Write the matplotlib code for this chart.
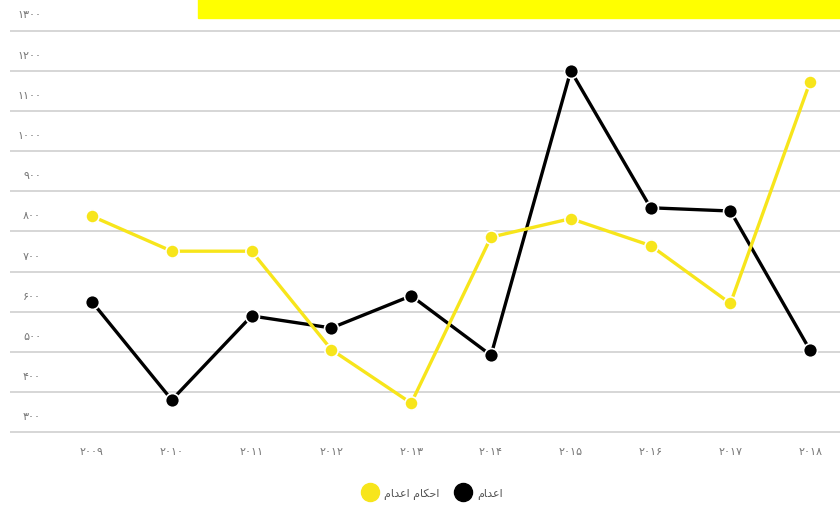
import numpy as np
import matplotlib.pyplot as plt
import matplotlib.patches as mpatches
from matplotlib.lines import Line2D

plt.rcParams['font.family'] = ['DejaVu Sans']

years = [2009, 2010, 2011, 2012, 2013, 2014, 2015, 2016, 2017, 2018]
year_labels = ['۲۰۰۹', '۲۰۱۰', '۲۰۱۱', '۲۰۱۲', '۲۰۱۳', '۲۰۱۴', '۲۰۱۵', '۲۰۱۶', '۲۰۱۷', '۲۰۱۸']
# احکام اعدام (sentences)
sentences = [838, 751, 751, 506, 373, 786, 832, 765, 621, 1173]
# اعدام (executions)
executions = [625, 381, 590, 560, 640, 492, 1200, 859, 851, 504]
y_ticks = [300, 400, 500, 600, 700, 800, 900, 1000, 1100, 1200, 1300]
y_labels = ['۳۰۰', '۴۰۰', '۵۰۰', '۶۰۰', '۷۰۰', '۸۰۰', '۹۰۰', '۱۰۰۰', '۱۱۰۰', '۱۲۰۰', '۱۳۰۰']

# persian labels written in presentation forms, visual order (matplotlib has no shaping)
lbl_sent = '\uFEE1\uFE8E\uFEAA\uFECB\uFE8D \uFEE1\uFE8E\uFB91\uFEA3\uFE8D'   # احکام اعدام
lbl_exec = '\uFEE1\uFE8E\uFEAA\uFECB\uFE8D'                                # اعدام

yellow = '#f7e51b'
W, H = 840, 506
fig = plt.figure(figsize=(W / 100, H / 100), dpi=100)
ax = fig.add_axes([10 / W, (H - 437.5) / H, 830 / W, (437.5 - 27.5) / H])
ax.set_xlim(2009 - 82 / 79.8, 2009 + 748 / 79.8)
ax.set_ylim(290, 1310)

for v in y_ticks:
    ax.axhline(v, color='#d6d6d6', lw=1.4, zorder=0)
for v, s in zip(y_ticks, y_labels):
    ax.text(31 / 830, v + 40, s, transform=ax.get_yaxis_transform(),
            ha='right', va='center', fontsize=8, color='#777777')

ax.plot(years, executions, color='black', lw=2.4, marker='o', ms=10,
        mfc='black', mec='white', mew=1.2, zorder=3)
ax.plot(years, sentences, color=yellow, lw=2.4, marker='o', ms=9.5,
        mfc=yellow, mec='white', mew=1.2, zorder=4)

ax.set_xticks(years)
ax.set_xticklabels(year_labels, fontsize=8, color='#777777')
ax.tick_params(axis='x', length=0, pad=7)
ax.set_yticks([])
for sp in ax.spines.values():
    sp.set_visible(False)

# yellow title banner (cut off at the top)
fig.patches.append(mpatches.Rectangle((198 / W, (H - 19) / H), 642 / W, 19 / H,
                                      transform=fig.transFigure, color='#ffff00', zorder=5))

handles = [Line2D([], [], ls='none', marker='o', ms=13, mfc=yellow, mec=yellow),
           Line2D([], [], ls='none', marker='o', ms=13, mfc='black', mec='black')]
fig.legend(handles, [lbl_sent, lbl_exec], loc='center', bbox_to_anchor=(433 / W, 1 - 494 / H),
           ncol=2, frameon=False, fontsize=8, labelcolor='#555555',
           handletextpad=0.6, columnspacing=1.6, handlelength=1.2)

fig.savefig('out.png', dpi=100)
